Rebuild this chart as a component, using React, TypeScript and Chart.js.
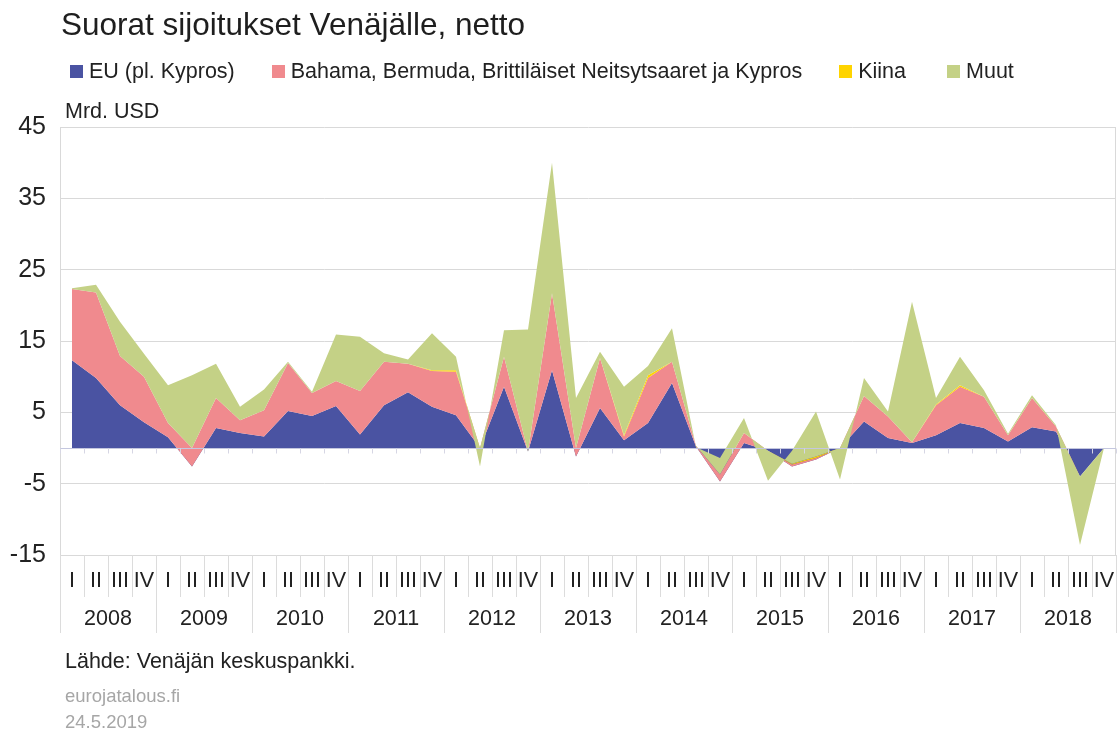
import React, { useEffect, useRef } from "react";
import { Chart, registerables } from "chart.js";

Chart.register(...registerables);

const FONT = "'Liberation Sans', Arial, Helvetica, sans-serif";

const years = ["2008", "2009", "2010", "2011", "2012", "2013", "2014", "2015", "2016", "2017", "2018"];
const quarterNames = ["I", "II", "III", "IV"];
const categories: string[] = years.flatMap((y) => quarterNames.map((q) => `${y} ${q}`));

const seriesNames = [
  "EU (pl. Kypros)",
  "Bahama, Bermuda, Brittiläiset Neitsytsaaret ja Kypros",
  "Kiina",
  "Muut",
];
const seriesColors = ["#4a53a2", "#f08a8e", "#ffd400", "#c4d186"];

const euValues = [
  12.3, 9.8, 6.0, 3.6, 1.5, -2.6, 2.8, 2.1,
  1.6, 5.2, 4.5, 5.9, 1.9, 6.0, 7.8, 5.8,
  4.6, 0.0, 8.6, -0.5, 10.9, -1.2, 5.6, 1.1,
  3.5, 9.1, 0.2, -4.7, 0.7, -0.4, -2.6, -1.6,
  0.0, 3.7, 1.4, 0.7, 1.8, 3.5, 2.8, 0.9,
  2.9, 2.3, -4.0, 0.0,
];
const offshoreValues = [
  10.0, 12.0, 6.9, 6.4, 2.0, 2.6, 4.2, 1.8,
  3.7, 6.7, 3.2, 3.5, 6.1, 6.1, 4.0, 5.0,
  6.1, 0.0, 4.2, 0.0, 10.8, 1.2, 7.0, 0.5,
  6.3, 3.0, 0.1, 1.0, 1.4, 0.0, 0.3, 0.2,
  0.0, 3.6, 3.0, 0.1, 4.2, 5.1, 4.4, 0.9,
  4.1, 0.7, 0.0, 0.0,
];
const chinaValues = [
  0, 0, 0, 0, 0, 0, 0, 0,
  0, 0, 0, 0, 0, 0, 0, 0.1,
  0.2, 0, 0, 0, 0, 0, 0, 0.2,
  0.4, 0, 0, 0, 0, 0, 0.1, 0.2,
  0, 0, 0, 0, 0.1, 0.2, 0, 0,
  0, 0, 0, 0,
];
const otherValues = [
  0.1, 1.1, 4.8, 3.2, 5.3, 10.2, 4.8, 1.9,
  2.9, 0.2, 0.2, 6.5, 7.6, 1.2, 0.6, 5.2,
  1.9, -2.6, 3.7, 17.1, 18.3, 7.0, 0.9, 6.8,
  1.3, 4.7, -0.2, 2.3, 2.1, -4.2, 1.8, 6.3,
  -4.4, 2.5, 0.7, 19.7, 0.9, 4.0, 0.9, 0.2,
  0.4, 0.2, -9.6, 0.0,
];

const yMin = -15;
const yMax = 45;
const yStep = 10;

const seriesValues = [euValues, offshoreValues, chinaValues, otherValues];

// Stacked areas drawn Excel-style: later series painted over earlier ones.
const areaPlugin = {
  id: "stackedAreas",
  beforeDatasetsDraw(chart: any) {
    const { ctx, chartArea: a } = chart;
    const y0 = chart.scales.y.getPixelForValue(0);
    ctx.save();
    ctx.beginPath();
    ctx.rect(a.left, a.top, a.right - a.left, a.bottom - a.top);
    ctx.clip();
    chart.data.datasets.forEach((ds: any, di: number) => {
      const pts = chart.getDatasetMeta(di).data;
      if (!pts.length) return;
      ctx.beginPath();
      pts.forEach((p: any, k: number) => (k ? ctx.lineTo(p.x, p.y) : ctx.moveTo(p.x, p.y)));
      if (di > 0) {
        const prev = chart.getDatasetMeta(di - 1).data;
        for (let k = prev.length - 1; k >= 0; k--) ctx.lineTo(prev[k].x, prev[k].y);
      } else {
        ctx.lineTo(pts[pts.length - 1].x, y0);
        ctx.lineTo(pts[0].x, y0);
      }
      ctx.closePath();
      ctx.fillStyle = ds.backgroundColor;
      ctx.fill();
    });
    ctx.restore();
  },
};

const axisPlugin = {
  id: "axisDecor",
  afterDatasetsDraw(chart: any) {
    const { ctx, chartArea: a } = chart;
    const xs = chart.scales.x;
    const ys = chart.scales.y;
    const y0 = Math.round(ys.getPixelForValue(0)) + 0.5;
    const n = categories.length;
    const centers = categories.map((_, i) => xs.getPixelForValue(i));
    const half = (centers[1] - centers[0]) / 2;
    const bounds: number[] = [];
    for (let k = 0; k <= n; k++) bounds.push(k < n ? centers[k] - half : centers[n - 1] + half);

    ctx.save();
    // right border of plot
    ctx.strokeStyle = "#d9d9d9";
    ctx.lineWidth = 1;
    ctx.beginPath();
    ctx.moveTo(Math.round(a.right) - 0.5, a.top);
    ctx.lineTo(Math.round(a.right) - 0.5, a.bottom);
    ctx.stroke();

    // zero axis line with small ticks
    ctx.strokeStyle = "#c4c7df";
    ctx.beginPath();
    ctx.moveTo(a.left, y0);
    ctx.lineTo(a.right, y0);
    ctx.stroke();
    ctx.strokeStyle = "#d6d6e4";
    ctx.beginPath();
    bounds.forEach((b) => {
      const bx = Math.round(b) + 0.5;
      ctx.moveTo(bx, y0);
      ctx.lineTo(bx, y0 + 5);
    });
    ctx.stroke();

    // category axis below the plot
    const base = a.bottom;
    ctx.strokeStyle = "#dcdcdc";
    ctx.beginPath();
    bounds.forEach((b, k) => {
      const bx = Math.round(b) + 0.5;
      ctx.moveTo(bx, base);
      ctx.lineTo(bx, k % 4 === 0 ? base + 78 : base + 42);
    });
    ctx.stroke();

    ctx.fillStyle = "#222222";
    ctx.textAlign = "center";
    ctx.textBaseline = "middle";
    ctx.font = `21.5px ${FONT}`;
    categories.forEach((_, k) => {
      ctx.fillText(quarterNames[k % 4], centers[k], base + 26);
    });
    years.forEach((yr, j) => {
      const cx = (bounds[j * 4] + bounds[j * 4 + 4]) / 2;
      ctx.fillText(yr, cx, base + 64);
    });
    ctx.restore();
  },
};

export default function App() {
  const canvasRef = useRef<HTMLCanvasElement>(null);

  useEffect(() => {
    if (!canvasRef.current) return;
    const chart = new Chart(canvasRef.current, {
      type: "line",
      data: {
        labels: categories,
        datasets: seriesValues.map((vals, i) => ({
          label: seriesNames[i],
          data: vals,
          backgroundColor: seriesColors[i],
          borderColor: seriesColors[i],
          borderWidth: 0,
          pointRadius: 0,
          showLine: false,
          fill: false,
        })),
      },
      options: {
        animation: false,
        responsive: true,
        maintainAspectRatio: false,
        events: [],
        layout: { padding: { top: 127, right: 4, bottom: 174, left: 0 } },
        plugins: {
          legend: { display: false },
          tooltip: { enabled: false },
          title: { display: false },
        },
        scales: {
          x: { type: "category", display: false, offset: true },
          y: {
            stacked: "single",
            min: yMin,
            max: yMax,
            afterFit(scale: any) {
              scale.width = 60;
            },
            ticks: {
              stepSize: yStep,
              padding: 14,
              color: "#222222",
              font: { family: FONT, size: 25 },
            },
            grid: { color: "#d9d9d9", drawTicks: false },
            border: { display: true, color: "#d9d9d9" },
          },
        },
      } as any,
      plugins: [areaPlugin, axisPlugin],
    });
    return () => chart.destroy();
  }, []);

  return (
    <div
      style={{
        position: "absolute",
        left: 0,
        top: 0,
        width: 1120,
        height: 729,
        background: "#ffffff",
        fontFamily: FONT,
        overflow: "hidden",
      }}
    >
      <div style={{ position: "absolute", left: 0, top: 0, width: 1120, height: 729 }}>
        <canvas ref={canvasRef} />
      </div>
      <div
        style={{
          position: "absolute",
          left: 61,
          top: 9,
          fontSize: 31.5,
          lineHeight: 1,
          color: "#1e1e1e",
          whiteSpace: "nowrap",
        }}
      >
        Suorat sijoitukset Venäjälle, netto
      </div>
      <div
        style={{
          position: "absolute",
          left: 70,
          top: 61,
          display: "flex",
          alignItems: "center",
          fontSize: 21.5,
          lineHeight: 1,
          color: "#222222",
          whiteSpace: "nowrap",
        }}
      >
        {seriesNames.map((name, i) => (
          <div key={name} style={{ display: "flex", alignItems: "center", marginRight: i === 2 ? 41 : 37 }}>
            <span
              style={{
                display: "inline-block",
                width: 13,
                height: 13,
                background: seriesColors[i],
                marginRight: 6,
              }}
            />
            <span>{name}</span>
          </div>
        ))}
      </div>
      <div
        style={{
          position: "absolute",
          left: 65,
          top: 101,
          fontSize: 21.5,
          lineHeight: 1,
          color: "#222222",
          whiteSpace: "nowrap",
        }}
      >
        Mrd. USD
      </div>
      <div
        style={{
          position: "absolute",
          left: 65,
          top: 651,
          fontSize: 21.5,
          lineHeight: 1,
          color: "#222222",
          whiteSpace: "nowrap",
        }}
      >
        Lähde: Venäjän keskuspankki.
      </div>
      <div
        style={{
          position: "absolute",
          left: 65,
          top: 683,
          fontSize: 18.5,
          lineHeight: 1.38,
          color: "#a6a6a6",
          whiteSpace: "nowrap",
        }}
      >
        eurojatalous.fi
        <br />
        24.5.2019
      </div>
    </div>
  );
}
